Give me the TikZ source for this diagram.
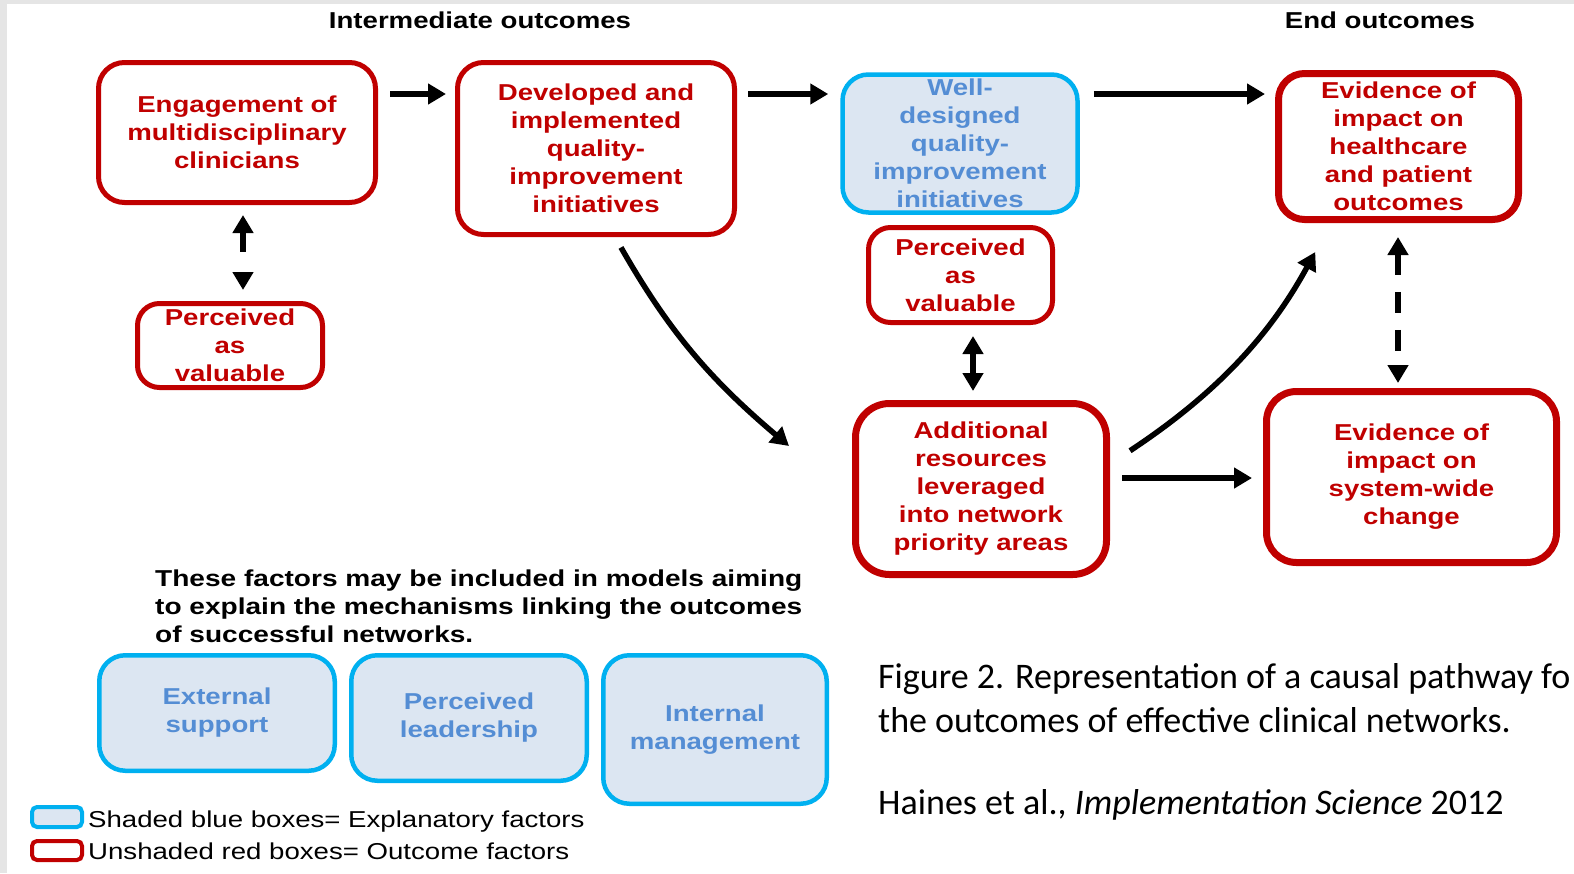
\documentclass[tikz,border=0pt]{standalone}
\usepackage{fontspec}
\setmainfont{Liberation Sans}
\newfontfamily\arialx[FakeStretch=1.2]{Liberation Sans}
\newfontfamily\arialp[FakeStretch=1.22]{Liberation Sans}
\newfontfamily\calib{Carlito}
\usetikzlibrary{arrows.meta}
\definecolor{outred}{RGB}{192,0,0}
\definecolor{expblue}{RGB}{0,176,240}
\definecolor{expfill}{RGB}{220,230,242}
\definecolor{exptext}{RGB}{84,141,212}
\definecolor{edgegray}{RGB}{229,229,229}
\tikzset{
  boxfont/.style={font=\arialx\bfseries\fontsize{23}{28}\selectfont},
  outbox/.style={draw=outred, line width=5pt, rounded corners=26pt, fill=white,
    text=outred, boxfont, align=center, inner sep=0pt},
  expbox/.style={draw=expblue, line width=4.5pt, rounded corners=26pt, fill=expfill,
    text=exptext, boxfont, align=center, inner sep=0pt},
  thick7/.style={line width=7pt},
  sz/.style 2 args={minimum width=#1, minimum height=#2},
  tipT/.tip={Triangle[length=18pt,width=20pt]},
  arr/.style={line width=5.5pt, -tipT},
  darr/.style={line width=5.5pt, tipT-tipT},
  heading/.style={font=\arialx\bfseries\fontsize{23}{28}\selectfont, text=black, inner sep=0pt},
  legtext/.style={font=\arialx\fontsize{23}{28}\selectfont, text=black, inner sep=0pt, anchor=base west},
  captext/.style={font=\calib\fontsize{36}{44}\selectfont, text=black, inner sep=0pt, anchor=west, align=left},
}
\begin{document}
\begin{tikzpicture}[x=1pt,y=-1pt]
\useasboundingbox (0,0) rectangle (1574,873);
\clip (0,0) rectangle (1574,873);
\fill[white] (0,0) rectangle (1574,873);
\fill[edgegray] (0,0) rectangle (7,873);
\fill[edgegray] (0,0) rectangle (1574,4);

% helper coordinates
\coordinate (r94) at (0,94);
\coordinate (r464) at (0,464);
\coordinate (r478) at (0,478);
\coordinate (x243) at (243,0);
\coordinate (x973) at (973,0);
\coordinate (x1398) at (1398,0);
\coordinate (x615) at (615,0);
\coordinate (x1331) at (1331,0);
\coordinate (a7tip) at (789,446);

% headings
\node[heading] (hint) at (480,20) {Intermediate outcomes};
\node[heading] (hend) at (1380,20) {End outcomes};

% outcome boxes
\node[outbox, sz={277}{140}] (eng) at (237,132.5) {Engagement of\\multidisciplinary\\clinicians};
\node[outbox, sz={277}{172}] (dev) at (596,148.5) {Developed and\\implemented\\quality-\\improvement\\initiatives};
\node[expbox, sz={235}{138}] (well) at (960,143.5) {Well-\\designed\\quality-\\improvement\\initiatives};
\node[outbox, thick7, sz={240}{146}] (evh) at (1398.5,146.5) {Evidence of\\impact on\\healthcare\\and patient\\outcomes};
\node[outbox, sz={185}{84}, rounded corners=22pt] (pv1) at (230,345.5) {Perceived\\as\\valuable};
\node[outbox, sz={184}{95}, rounded corners=22pt] (pv2) at (960.5,275) {Perceived\\as\\valuable};
\node[outbox, thick7, sz={251}{171}, rounded corners=34pt] (add) at (981,489) {Additional\\resources\\leveraged\\into network\\priority areas};
\node[outbox, thick7, sz={290}{171}, rounded corners=30pt] (evs) at (1411.5,477) {Evidence of\\impact on\\system-wide\\change};

% explanatory factor boxes
\node[expbox, sz={235.5}{115.5}] (ext) at (217,713) {External\\support};
\node[expbox, sz={235.5}{125.5}] (lead) at (469,718) {Perceived\\leadership};
\node[expbox, sz={223.5}{148.5}] (intm) at (715,729.5) {Internal\\management};

% connectors
\draw[arr, shorten <=12pt, shorten >=9pt] (eng.east |- r94) -- (dev.west |- r94);
\draw[arr, shorten <=11pt, shorten >=12pt] (dev.east |- r94) -- (well.west |- r94);
\draw[arr, shorten <=14pt, shorten >=10pt] (well.east |- r94) -- (evh.west |- r94);
\draw[darr, dash pattern=on 20pt off 30pt, shorten <=10pt, shorten >=11pt] (eng.south -| x243) -- (pv1.north -| x243);
\draw[darr, shorten <=11pt, shorten >=9pt] (pv2.south -| x973) -- (add.north -| x973);
\draw[darr, dash pattern=on 21pt off 17pt, shorten <=14pt, shorten >=5pt] (evh.south -| x1398) -- (evs.north -| x1398);
\draw[arr, shorten <=12pt] (dev.south -| x615) to[bend right=10] (a7tip);
\draw[arr, shorten <=24pt, shorten >=33pt] (add.east |- r464) to[bend right=14] (evh.south -| x1331);
\draw[arr, shorten <=12pt, shorten >=11pt] (add.east |- r478) -- (evs.west |- r478);

% explanatory paragraph
\node[font=\arialp\bfseries\fontsize{23}{28}\selectfont, anchor=west, align=left, inner sep=0pt] (para) at (155,606)
  {These factors may be included in models aiming\\to explain the mechanisms linking the outcomes\\of successful networks.};

% legend
\node[draw=expblue, fill=expfill, line width=4pt, rounded corners=5pt, sz={50}{20}, inner sep=0pt] (lgb) at (57,817) {};
\node[draw=outred, fill=white, line width=4pt, rounded corners=5pt, sz={50}{19}, inner sep=0pt] (lgr) at (57,850.5) {};
\node[legtext] (lgbt) at (88,827) {Shaded blue boxes= Explanatory factors};
\node[legtext] (lgrt) at (88,859) {Unshaded red boxes= Outcome factors};

% caption
\node[captext] (cap) at (878,698) {Figure 2. Representation of a causal pathway fo\\the outcomes of effective clinical networks.};
\node[captext] (cite) at (878,805) {Haines et al., \textit{Implementation Science} 2012};
\end{tikzpicture}
\end{document}
